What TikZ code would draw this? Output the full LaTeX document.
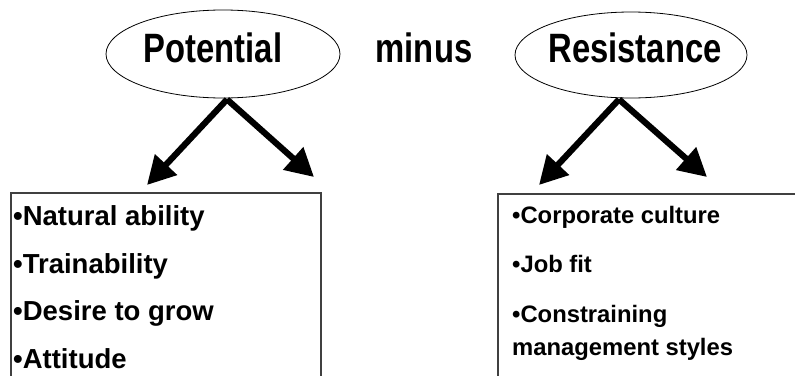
\documentclass[tikz,border=0pt]{standalone}
\usepackage{fontspec}
\setmainfont{Liberation Sans}
\newfontfamily\narrowfont[FakeStretch=0.8]{Liberation Sans Bold}
\usetikzlibrary{shapes.geometric,arrows.meta}

\tikzset{
  bubble/.style={draw=black, line width=0.8pt, ellipse, inner sep=0pt},
  headword/.style={font=\narrowfont\fontsize{41}{41}\selectfont, inner sep=0pt, anchor=base},
  listbox/.style={draw=black!75, line width=1.1pt},
  biglist/.style={font=\bfseries\fontsize{27.5}{27.5}\selectfont, inner sep=0pt, anchor=base west},
  smalllist/.style={font=\bfseries\fontsize{23.8}{33}\selectfont, inner sep=0pt, anchor=base west},
  fatarrow/.style={line width=6.2pt, -{Triangle[length=28pt,width=29pt]}}
}

\begin{document}
\begin{tikzpicture}[x=1pt, y=-1pt]
  \useasboundingbox (0,0) rectangle (795,375);
  \fill[white] (0,0) rectangle (795,375);

  % the two terms of the difference
  \node[bubble, minimum width=234pt, minimum height=88pt] (pot) at (223,54) {};
  \node[headword] (potlabel) at (213,62) {Potential};
  \node[headword] (minus) at (424,62) {minus};
  \node[bubble, minimum width=232pt, minimum height=86pt] (res) at (631,55) {};
  \node[headword] (reslabel) at (635,62) {Resistance};

  % list of potential factors
  \draw[listbox] (11,400) -- (11,193) -- (321,193) -- (321,400);
  \node[biglist] (p1) at (13,225) {•Natural ability};
  \node[biglist] (p2) at (13,273) {•Trainability};
  \node[biglist] (p3) at (13,320) {•Desire to grow};
  \node[biglist] (p4) at (13,368) {•Attitude};

  % list of resistance factors
  \draw[listbox] (498,400) -- (498,194) -- (800,194);
  \node[smalllist] (r1) at (512,223) {•Corporate culture};
  \node[smalllist] (r2) at (512,272) {•Job fit};
  \node[smalllist, anchor=north west, align=left] (r3) at (512,304.6)
    {•Constraining\\management styles};

  % arrows branching from each term
  \coordinate (pa) at (147,185);
  \coordinate (pb) at (314,177);
  \coordinate (ra) at (539,185);
  \coordinate (rb) at (707,177);
  \draw[fatarrow] ([xshift=4pt,yshift=-1pt]pot.south) -- (pa);
  \draw[fatarrow] ([xshift=4pt,yshift=-1pt]pot.south) -- (pb);
  \draw[fatarrow] ([xshift=-12pt,yshift=-1pt]res.south) -- (ra);
  \draw[fatarrow] ([xshift=-12pt,yshift=-1pt]res.south) -- (rb);
\end{tikzpicture}
\end{document}
